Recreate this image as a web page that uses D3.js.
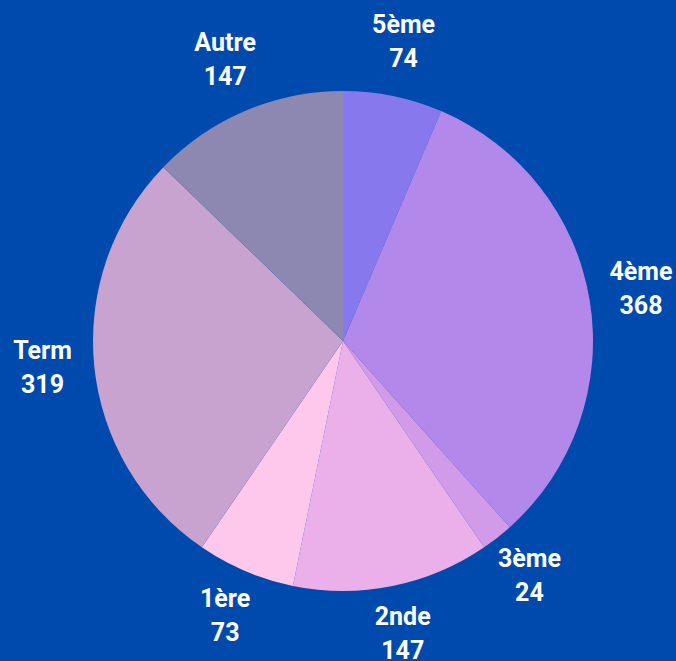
<!DOCTYPE html>
<html>
<head>
<meta charset="utf-8">
<script src="https://cdn.jsdelivr.net/npm/d3@7"></script>
<style>
  html, body { margin: 0; padding: 0; background: #004aad; }
  svg { display: block; }
</style>
</head>
<body>
<svg id="chart" width="676" height="661"></svg>
<script>
// data
var categories = ["5ème", "4ème", "3ème", "2nde", "1ère", "Term", "Autre"]
var counts = [74, 368, 24, 147, 73, 319, 147]
var colours = ["#8779ed", "#b388eb", "#d29be9", "#ebafe9", "#fec8ec", "#c8a3d0", "#8c88b1"]

var svg = d3.select("#chart"),
    width = +svg.attr("width"),
    height = +svg.attr("height")

var cx = 343, cy = 341, radius = 250, labelR = 302

var slices = categories.map(function(c, i) {
  return { name: c, value: counts[i], colour: colours[i] }
})

var pie = d3.pie()
    .sort(null)
    .value(function(d) { return d.value })

var arc = d3.arc().innerRadius(0).outerRadius(radius)
var labelArc = d3.arc().innerRadius(labelR).outerRadius(labelR)

var g = svg.append("g")
    .attr("transform", "translate(" + cx + "," + cy + ")")

var arcs = pie(slices)

g.selectAll("path")
    .data(arcs)
    .enter().append("path")
    .attr("d", arc)
    .attr("fill", function(d) { return d.data.colour })

var label = g.selectAll("text.label")
    .data(arcs)
    .enter().append("text")
    .attr("class", "label")
    .attr("transform", function(d) { return "translate(" + labelArc.centroid(d) + ")" })
    .attr("text-anchor", "middle")
    .attr("fill", "#ffffff")
    .style("font-family", "Roboto, 'Noto Sans', sans-serif")
    .style("font-weight", "700")
    .style("font-size", "25px")

label.append("tspan")
    .attr("x", 0)
    .attr("y", -12)
    .text(function(d) { return d.data.name })

label.append("tspan")
    .attr("x", 0)
    .attr("y", 22)
    .text(function(d) { return d.data.value })
</script>
</body>
</html>
